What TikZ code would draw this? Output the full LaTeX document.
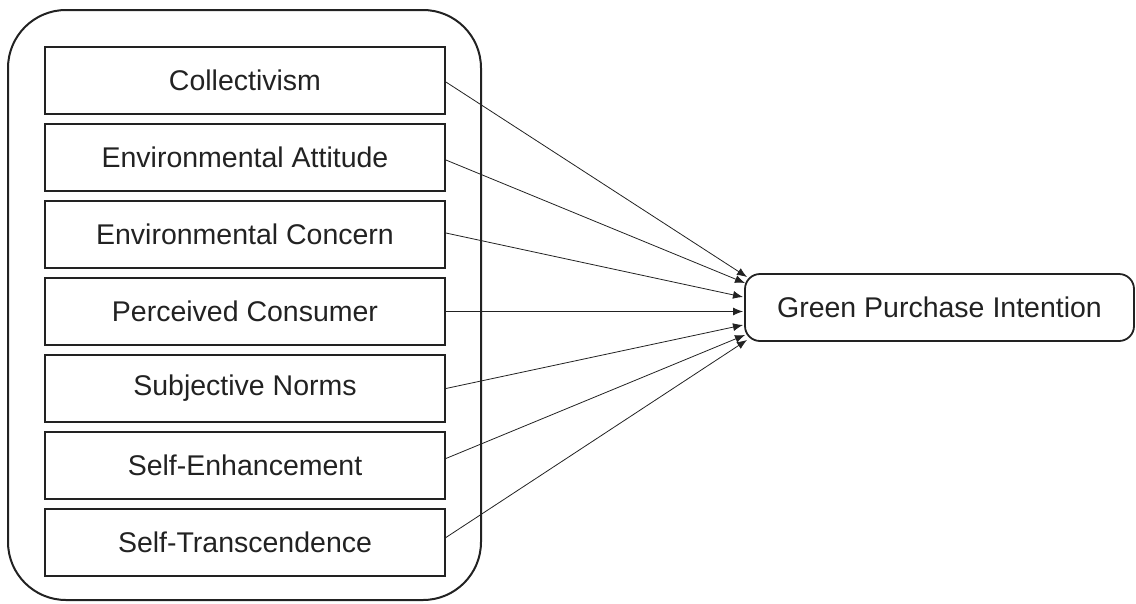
\documentclass[tikz,border=0pt]{standalone}
\usepackage{fontspec}
\setmainfont{Liberation Sans}
\usetikzlibrary{arrows.meta}
\definecolor{ink}{HTML}{222222}
\begin{document}
\begin{tikzpicture}[x=1pt,y=-1pt,
  factor/.style={draw=ink,line width=1.8pt,minimum width=400pt,minimum height=67pt,inner sep=0pt,
    font=\fontsize{28.5}{32}\selectfont,text=ink},
  target/.style={draw=ink,line width=1.8pt,rounded corners=15pt,minimum width=389pt,minimum height=67pt,inner sep=0pt,
    font=\fontsize{28.5}{32}\selectfont,text=ink},
  link/.style={draw=ink,line width=0.8pt,-{Latex[length=10pt,width=8pt]}}]
\useasboundingbox (0,0) rectangle (1136,603);
\draw[ink,line width=2pt,rounded corners=58pt] (8,10) rectangle (481,600);
\node[factor] (c1) at (245,80.5) {Collectivism};
\node[factor] (c2) at (245,157.5) {Environmental Attitude};
\node[factor] (c3) at (245,234.5) {Environmental Concern};
\node[factor] (c4) at (245,311.5) {Perceived Consumer};
\node[factor] (c5) at (245,388.5) {Subjective Norms};
\node[factor] (c6) at (245,465.5) {Self-Enhancement};
\node[factor] (c7) at (245,542.5) {Self-Transcendence};
\node[target] (g) at (939.5,307.5) {Green Purchase Intention};
\coordinate (t1) at (747,277);
\coordinate (t2) at (745,283);
\coordinate (t3) at (743,297);
\coordinate (t4) at (743,311.5);
\coordinate (t5) at (743,325);
\coordinate (t6) at (745,335);
\coordinate (t7) at (747,340);
\draw[link] ([yshift=-1.5pt]c1.east) -- (t1);
\draw[link] ([yshift=-2.5pt]c2.east) -- (t2);
\draw[link] ([yshift=1.5pt]c3.east) -- (t3);
\draw[link] (c4.east) -- (t4);
\draw[link] (c5.east) -- (t5);
\draw[link] ([yshift=7pt]c6.east) -- (t6);
\draw[link] ([yshift=5pt]c7.east) -- (t7);
\end{tikzpicture}
\end{document}
